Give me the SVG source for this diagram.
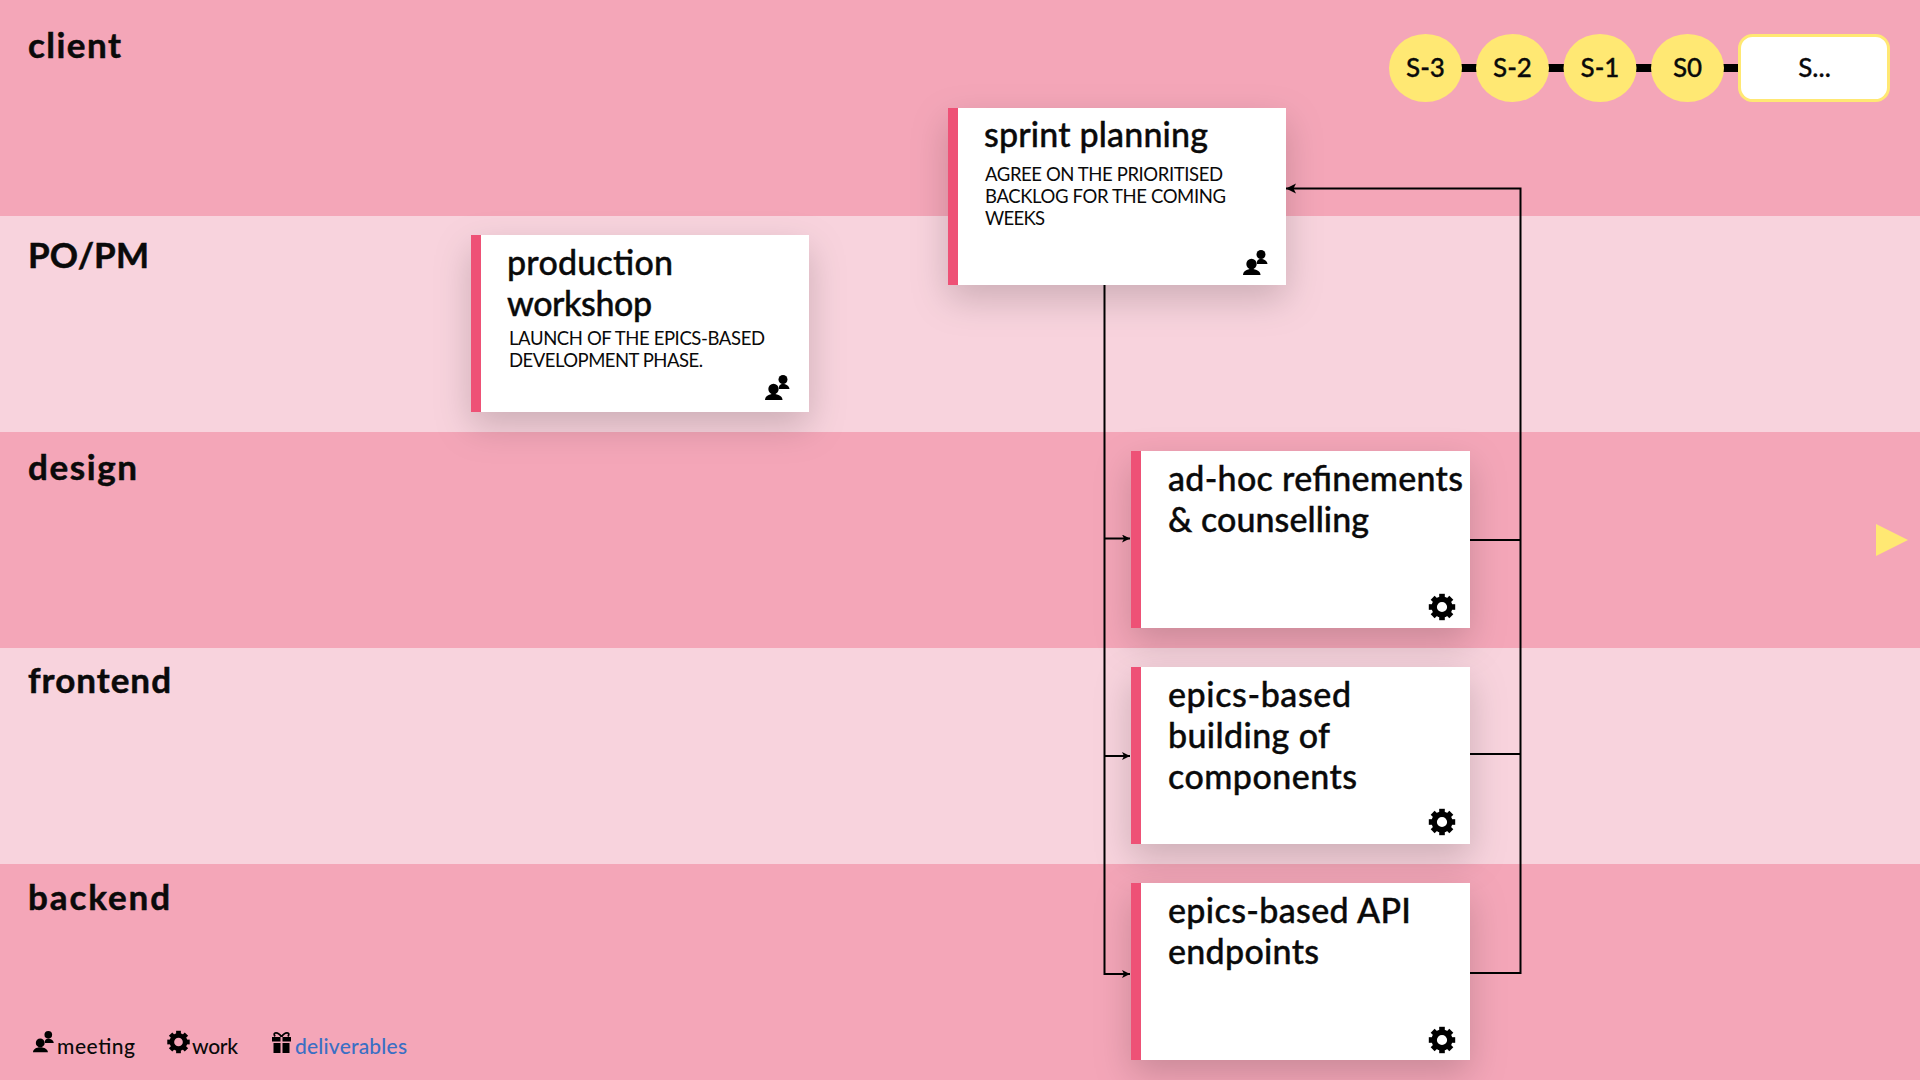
<svg xmlns="http://www.w3.org/2000/svg" width="1920" height="1080" viewBox="0 0 1920 1080">
<style>
text{font-family:"Lato","Noto Sans",sans-serif;fill:#0a0a0a}
.lane{font-size:35px;font-weight:700;stroke:#0a0a0a;stroke-width:.5px}
.title{font-size:34px;font-weight:500;stroke:#0a0a0a;stroke-width:.4px}
.sub{font-size:18.5px}
.tl{font-size:26px;font-weight:500;text-anchor:middle;stroke:#0a0a0a;stroke-width:.3px}
.leg{font-size:21px;font-weight:500}
.dark{fill:#f4a6b8}.light{fill:#f8d3dd}
.card{fill:#fff;filter:url(#sh)}.bar{fill:#ee5176}
.step{fill:#ffe873}
.wire{fill:none;stroke:#000;stroke-width:2}
</style>
<defs>
<filter id="sh" x="-30%" y="-30%" width="160%" height="170%"><feDropShadow dx="0" dy="14" stdDeviation="18" flood-color="#000" flood-opacity="0.18"/></filter>
<marker id="a" markerWidth="12" markerHeight="12" refX="10" refY="5" orient="auto" markerUnits="userSpaceOnUse"><path d="M0 0L10 5L0 10L2.500 5Z" fill="#000"/></marker>
<marker id="b" markerWidth="10" markerHeight="10" refX="8" refY="4" orient="auto" markerUnits="userSpaceOnUse"><path d="M0 0L8 4L0 8L2 4Z" fill="#000"/></marker>
<g id="gear"><circle r="7.800" fill="none" stroke="#000" stroke-width="5.400"/><g id="t"><rect x="-2.800" y="-13.200" width="5.600" height="5"/><rect x="-2.800" y="8.200" width="5.600" height="5"/></g><use href="#t" transform="rotate(45)"/><use href="#t" transform="rotate(90)"/><use href="#t" transform="rotate(135)"/></g>
<g id="people"><circle cx="18" cy="4.500" r="4.500"/><path d="M14 14C13.500 10.500 15 9 18 9S24 10.500 24.500 14Z"/><circle cx="8.500" cy="14" r="5.200"/><path d="M0 25C0 21.500 3.500 19 8.500 19S17.500 21.500 17.500 25Z"/></g>
</defs>
<g id="lanes">
<rect class="dark" y="0" width="1920" height="216"/><rect class="light" y="216" width="1920" height="216"/><rect class="dark" y="432" width="1920" height="216"/><rect class="light" y="648" width="1920" height="216"/><rect class="dark" y="864" width="1920" height="216"/>
<text class="lane" x="28" y="58" textLength="93">client</text>
<text class="lane" x="28" y="268" textLength="121">PO/PM</text>
<text class="lane" x="28" y="480" textLength="109">design</text>
<text class="lane" x="28" y="693" textLength="143">frontend</text>
<text class="lane" x="28" y="910" textLength="142">backend</text>
</g>
<g id="timeline">
<rect x="1440" y="64" width="310" height="8" fill="#000"/>
<g id="s-3"><ellipse class="step" cx="1425.500" cy="68" rx="36.500" ry="34"/><text class="tl" x="1425.500" y="77">S-3</text></g>
<g id="s-2"><ellipse class="step" cx="1512.500" cy="68" rx="36.500" ry="34"/><text class="tl" x="1512.500" y="77">S-2</text></g>
<g id="s-1"><ellipse class="step" cx="1600" cy="68" rx="36.500" ry="34"/><text class="tl" x="1600" y="77">S-1</text></g>
<g id="s0"><ellipse class="step" cx="1687.500" cy="68" rx="36.500" ry="34"/><text class="tl" x="1687.500" y="77">S0</text></g>
<g id="s-more"><rect x="1739.500" y="35.500" width="149" height="65" rx="13" fill="#fff" stroke="#ffe873" stroke-width="3"/><text class="tl" x="1814.500" y="77">S...</text></g>
</g>
<path id="next" d="M1876 524L1908 540L1876 556Z" fill="#ffe873"/>
<g id="production-workshop"><rect class="card" x="471" y="235" width="338" height="177"/><rect class="bar" x="471" y="235" width="10" height="177"/>
<text class="title" x="507" y="275" textLength="166">production</text><text class="title" x="507" y="316" textLength="145">workshop</text>
<text class="sub" x="509" y="345" textLength="256">LAUNCH OF THE EPICS-BASED</text><text class="sub" x="509" y="367" textLength="194">DEVELOPMENT PHASE.</text>
<use href="#people" x="765" y="375"/></g>
<g id="sprint-planning"><rect class="card" x="948" y="108" width="338" height="177"/><rect class="bar" x="948" y="108" width="10" height="177"/>
<text class="title" x="984" y="147" textLength="224">sprint planning</text>
<text class="sub" x="985" y="181" textLength="238">AGREE ON THE PRIORITISED</text><text class="sub" x="985" y="203" textLength="241">BACKLOG FOR THE COMING</text><text class="sub" x="985" y="225" textLength="60">WEEKS</text>
<use href="#people" x="1243" y="250"/></g>
<g id="ad-hoc"><rect class="card" x="1131" y="451" width="339" height="177"/><rect class="bar" x="1131" y="451" width="10" height="177"/>
<text class="title" x="1168" y="491" textLength="295">ad-hoc refinements</text><text class="title" x="1168" y="532" textLength="201">&amp; counselling</text>
<use href="#gear" x="1442" y="607"/></g>
<g id="components"><rect class="card" x="1131" y="667" width="339" height="177"/><rect class="bar" x="1131" y="667" width="10" height="177"/>
<text class="title" x="1168" y="707" textLength="183">epics-based</text><text class="title" x="1168" y="748" textLength="162">building of</text><text class="title" x="1168" y="789" textLength="189">components</text>
<use href="#gear" x="1442" y="822"/></g>
<g id="api"><rect class="card" x="1131" y="883" width="339" height="177"/><rect class="bar" x="1131" y="883" width="10" height="177"/>
<text class="title" x="1168" y="923" textLength="243">epics-based API</text><text class="title" x="1168" y="964" textLength="151">endpoints</text>
<use href="#gear" x="1442" y="1040"/></g>
<g id="connectors">
<path class="wire" d="M1104.500 285V974H1130" marker-end="url(#b)"/>
<path class="wire" d="M1104.500 538.500H1130" marker-end="url(#b)"/>
<path class="wire" d="M1104.500 756H1130" marker-end="url(#b)"/>
<path class="wire" d="M1470 973H1520.500V188.500H1286" marker-end="url(#a)"/>
<path class="wire" d="M1470 540H1520"/>
<path class="wire" d="M1470 754H1520"/>
</g>
<g id="legend">
<use href="#people" transform="translate(33 1031) scale(.85)"/><text class="leg" x="57" y="1054" textLength="78">meeting</text>
<use href="#gear" transform="translate(178.500 1042) scale(.85)"/><text class="leg" x="192" y="1054" textLength="46">work</text>
<g id="gift"><rect x="272" y="1037" width="19" height="4.500"/><rect x="273.500" y="1043" width="16" height="10"/><path d="M281.500 1037C278 1031 272 1032 275 1036.500M281.500 1037C285 1031 291 1032 288 1036.500" fill="none" stroke="#000" stroke-width="1.800"/><rect x="280.500" y="1037" width="2" height="16" fill="#f4a6b8"/></g>
<text class="leg" x="295" y="1054" textLength="112" style="fill:#3a6fc4">deliverables</text>
</g>
</svg>
